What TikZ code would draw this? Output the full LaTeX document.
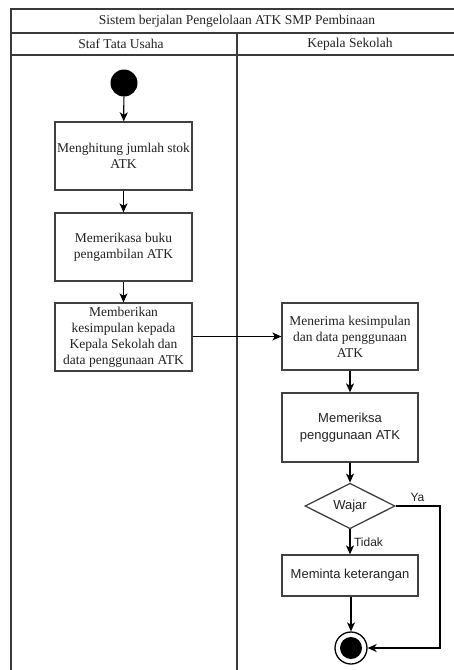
\documentclass[tikz,border=0pt]{standalone}
\usepackage{fontspec}
\setmainfont{Liberation Serif}
\newfontfamily\sansfont{Liberation Sans}
\usetikzlibrary{shapes.geometric,arrows.meta}

\definecolor{framecol}{HTML}{3A3A3A}
\definecolor{boxcol}{HTML}{404040}
\definecolor{txtcol}{HTML}{222222}

\tikzset{
  frameline/.style={draw=framecol, line width=1.3pt},
  actbox/.style={draw=boxcol, line width=1.3pt, fill=white, inner sep=0pt,
    minimum width=137pt, align=center, text=txtcol,
    font=\fontsize{13.5}{16}\selectfont},
  sansbox/.style={actbox, font=\sansfont\fontsize{13}{17.5}\selectfont},
  decision/.style={diamond, draw=boxcol, line width=1.3pt, fill=white,
    inner sep=0pt, minimum width=90pt, minimum height=44pt, text=txtcol,
    font=\sansfont\fontsize{13}{16}\selectfont},
  startdot/.style={circle, fill=black, inner sep=0pt, minimum size=27pt},
  enddot/.style={circle, draw=black, line width=1.3pt, fill=white, inner sep=0pt,
    minimum size=32pt,
    path picture={\fill[black] (path picture bounding box.center) circle (11pt);}},
  flow/.style={draw=black, line width=1.2pt,
    -{Stealth[length=9pt, width=8pt, inset=2.5pt]}},
  guard/.style={text=txtcol, inner sep=0pt, font=\sansfont\fontsize{12}{14}\selectfont},
}

\begin{document}
\begin{tikzpicture}[x=1pt, y=-1pt]
  \useasboundingbox (0,0) rectangle (454,670);
  \clip (0,0) rectangle (454,670);
  \fill[white] (0,0) rectangle (454,670);

  % swimlane frame
  \draw[frameline] (11,9) rectangle (463,672);
  \draw[frameline] (11,33) -- (463,33);
  \draw[frameline] (11,55) -- (463,55);
  \draw[frameline] (237,33) -- (237,672);

  \node[text=txtcol, font=\fontsize{13.5}{16}\selectfont] (title) at (237,21) {Sistem berjalan Pengelolaan ATK SMP Pembinaan};
  \node[text=txtcol, font=\fontsize{13.5}{16}\selectfont] (laneA) at (121,44) {Staf Tata Usaha};
  \node[text=txtcol, font=\fontsize{13.5}{16}\selectfont] (laneB) at (350,44) {Kepala Sekolah};

  % Staf Tata Usaha lane
  \node[startdot] (start) at (124,83) {};
  \node[actbox, minimum height=68pt] (hitung) at (123.5,156) {Menghitung jumlah stok\\ATK};
  \node[actbox, minimum height=68pt] (periksa) at (123.5,247) {Memerikasa buku\\pengambilan ATK};
  \node[actbox, minimum height=68pt] (beri) at (123.5,337) {Memberikan\\kesimpulan kepada\\Kepala Sekolah dan\\data penggunaan ATK};

  % Kepala Sekolah lane
  \node[actbox, minimum width=136pt, minimum height=67pt] (terima) at (350,336.5) {Menerima kesimpulan\\dan data penggunaan\\ATK};
  \node[sansbox, minimum width=136pt, minimum height=69pt] (cek) at (350,427.5) {Memeriksa\\penggunaan ATK};
  \node[decision] (wajar) at (350,506) {Wajar};
  \node[sansbox, minimum width=136pt, minimum height=41pt] (minta) at (350,575.5) {Meminta keterangan};
  \node[enddot] (end) at (351,648) {};
  \coordinate (yaturn) at (440,506);
  \coordinate (yadown) at (440,648);

  % control flow
  \draw[flow] (start) -- (hitung);
  \draw[flow] (hitung) -- (periksa);
  \draw[flow] (periksa) -- (beri);
  \draw[flow] (beri.east |- terima.west) -- (terima.west);
  \draw[flow] (terima) -- (cek);
  \draw[flow] (cek) -- (wajar);
  \draw[flow] (wajar) -- (minta);
  \draw[flow] (minta.south -| end.north) -- (end);
  \draw[flow] (wajar.east) -- (yaturn) -- (yadown) -- (end.east);

  \node[guard] (ya) at (417.5,497) {Ya};
  \node[guard] (tidak) at (368.5,542) {Tidak};
\end{tikzpicture}
\end{document}
